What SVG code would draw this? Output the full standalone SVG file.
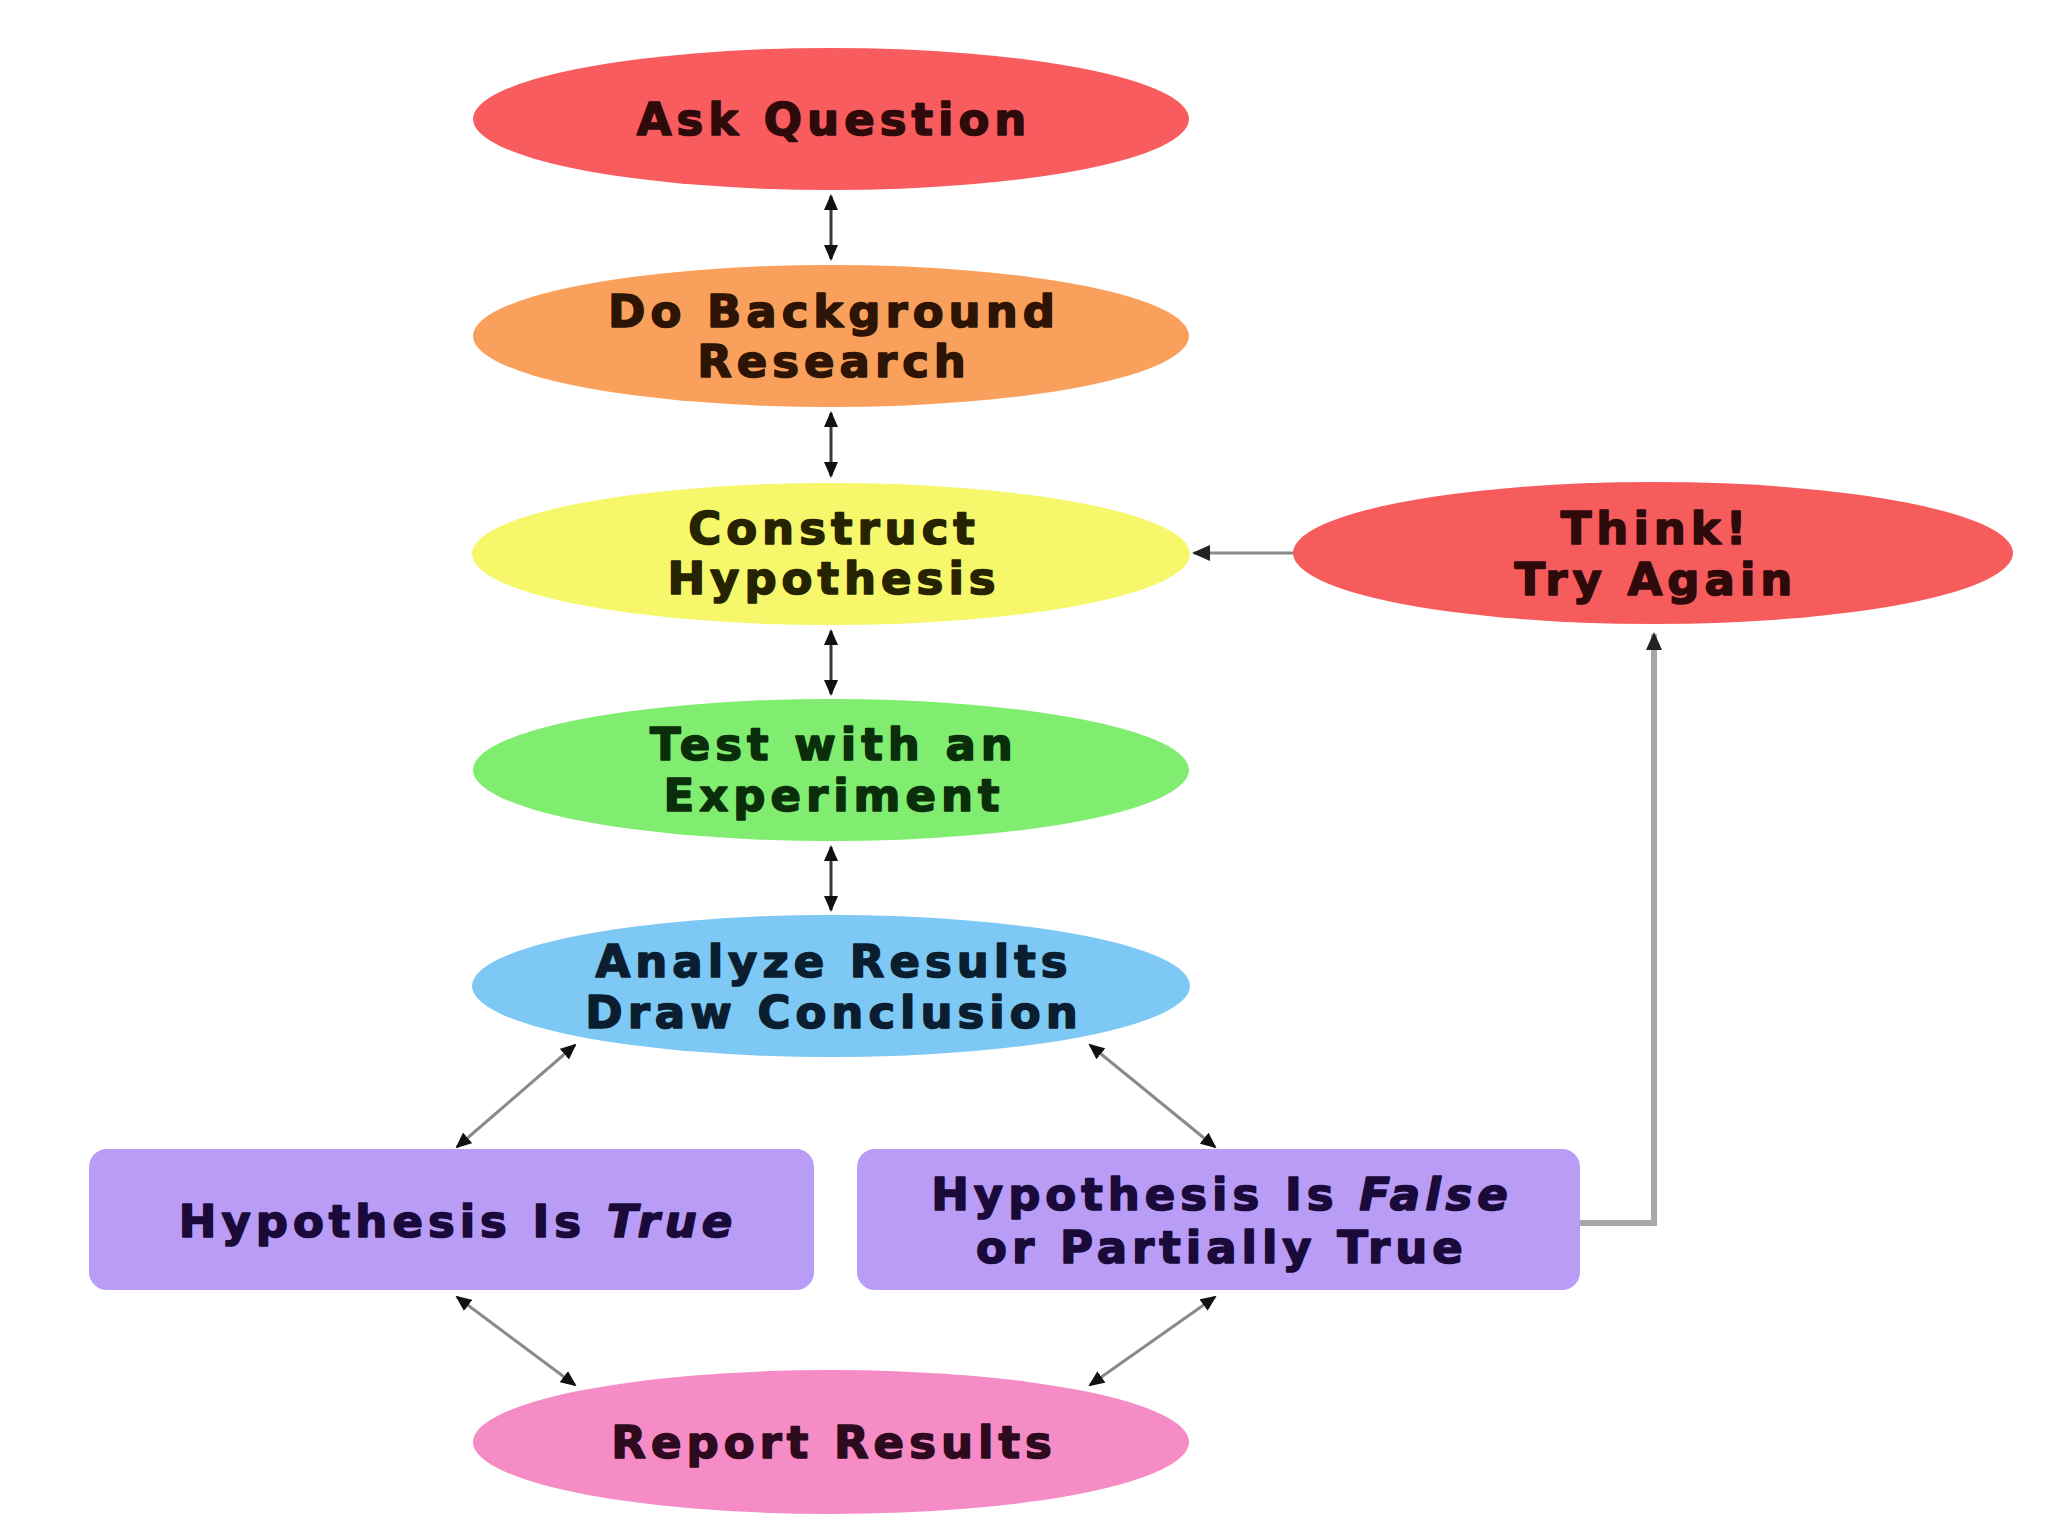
<svg xmlns="http://www.w3.org/2000/svg" width="2048" height="1536" viewBox="0 0 2048 1536">
<style>
.lbl{font-family:"DejaVu Sans","Liberation Sans",sans-serif;font-weight:bold;font-size:45px;letter-spacing:5px;text-anchor:middle;fill:currentColor;stroke:currentColor;stroke-width:1.6px;stroke-linejoin:round}
.dk{stroke:#3a3a3a;stroke-width:3;fill:none}
.gr{stroke:#8a8a8a;stroke-width:3;fill:none}
.lg{stroke:#a8a8a8;stroke-width:6;fill:none}
</style>
<defs>
<marker id="ah" markerUnits="userSpaceOnUse" markerWidth="16" markerHeight="14" refX="14" refY="7" orient="auto-start-reverse">
<path d="M0,0 L16,7 L0,14 Z" fill="#111"/>
</marker>
<marker id="ahg" markerUnits="userSpaceOnUse" markerWidth="18" markerHeight="16" refX="16" refY="8" orient="auto">
<path d="M0,0 L18,8 L0,16 Z" fill="#222"/>
</marker>
</defs>
<rect width="2048" height="1536" fill="#ffffff"/>
<g id="connectors">
<line class="dk" x1="831" y1="196" x2="831" y2="259" marker-start="url(#ah)" marker-end="url(#ah)"/>
<line class="dk" x1="831" y1="413" x2="831" y2="476" marker-start="url(#ah)" marker-end="url(#ah)"/>
<line class="dk" x1="831" y1="631" x2="831" y2="694" marker-start="url(#ah)" marker-end="url(#ah)"/>
<line class="dk" x1="831" y1="847" x2="831" y2="910" marker-start="url(#ah)" marker-end="url(#ah)"/>
<line class="gr" x1="575" y1="1045" x2="457" y2="1147" marker-start="url(#ah)" marker-end="url(#ah)"/>
<line class="gr" x1="1090" y1="1045" x2="1215" y2="1147" marker-start="url(#ah)" marker-end="url(#ah)"/>
<line class="gr" x1="457" y1="1297" x2="575" y2="1385" marker-start="url(#ah)" marker-end="url(#ah)"/>
<line class="gr" x1="1215" y1="1297" x2="1090" y2="1385" marker-start="url(#ah)" marker-end="url(#ah)"/>
<line class="gr" x1="1294" y1="553" x2="1194" y2="553" marker-end="url(#ahg)"/>
<polyline class="lg" points="1580,1223 1654,1223 1654,634" marker-end="url(#ahg)"/>
</g>
<g id="ask-question" color="#2e0a0a">
<ellipse cx="831" cy="119" rx="358" ry="71" fill="#f85c5f"/>
<text class="lbl" x="834" y="135">Ask Question</text>
</g>
<g id="background-research" color="#2e1405">
<ellipse cx="831" cy="336" rx="358" ry="71" fill="#f9a15c"/>
<text class="lbl" x="834" y="327">Do Background</text>
<text class="lbl" x="834" y="377">Research</text>
</g>
<g id="construct-hypothesis" color="#262400">
<ellipse cx="831" cy="554" rx="359" ry="71" fill="#f7f76c"/>
<text class="lbl" x="834" y="544">Construct</text>
<text class="lbl" x="834" y="594">Hypothesis</text>
</g>
<g id="test-experiment" color="#0a2e0a">
<ellipse cx="831" cy="770" rx="358" ry="71" fill="#80ec70"/>
<text class="lbl" x="834" y="760">Test with an</text>
<text class="lbl" x="834" y="811">Experiment</text>
</g>
<g id="analyze-results" color="#0a1e30">
<ellipse cx="831" cy="986" rx="359" ry="71" fill="#7dc8f5"/>
<text class="lbl" x="834" y="977">Analyze Results</text>
<text class="lbl" x="834" y="1028">Draw Conclusion</text>
</g>
<g id="think-try-again" color="#2e0a0a">
<ellipse cx="1653" cy="553" rx="360" ry="71" fill="#f75c5c"/>
<text class="lbl" x="1656" y="544">Think!</text>
<text class="lbl" x="1656" y="595">Try Again</text>
</g>
<g id="hypothesis-true" color="#1a0a3a">
<rect x="89" y="1149" width="725" height="141" rx="18" fill="#b89cf6"/>
<text class="lbl" x="458" y="1237">Hypothesis Is <tspan font-style="italic">True</tspan></text>
</g>
<g id="hypothesis-false" color="#1a0a3a">
<rect x="857" y="1149" width="723" height="141" rx="18" fill="#b89cf6"/>
<text class="lbl" x="1222" y="1210">Hypothesis Is <tspan font-style="italic">False</tspan></text>
<text class="lbl" x="1222" y="1263">or Partially True</text>
</g>
<g id="report-results" color="#2e0a1e">
<ellipse cx="831" cy="1442" rx="358" ry="72" fill="#f68cc5"/>
<text class="lbl" x="834" y="1458">Report Results</text>
</g>
</svg>
